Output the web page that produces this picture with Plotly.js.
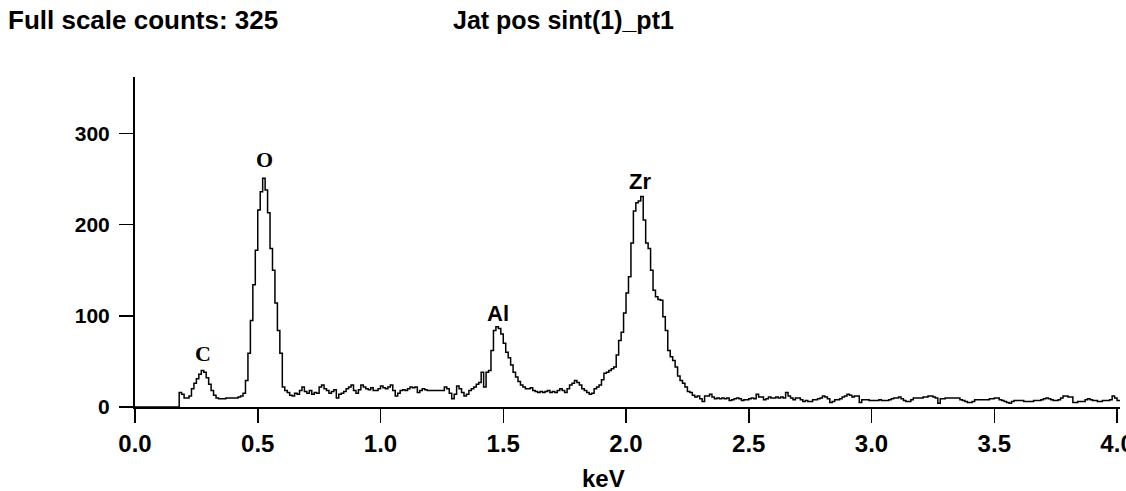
<!DOCTYPE html>
<html>
<head>
<meta charset="utf-8">
<script src="https://cdn.plot.ly/plotly-3.0.1.min.js"></script>
<style>html,body{margin:0;padding:0;background:#fff;}#chart{width:1126px;height:491px;}</style>
</head>
<body>
<div id="chart"></div>
<script>
// Spectrum counts, one value per 0.01 keV channel starting at 0.00 keV
const channelStart = 0.0;
const channelWidth = 0.01;
const counts = [
  0,0,0,0,0,0,0,0,0,0,
  0,0,0,0,0,0,0,0,16,14,
  10,10,12,20,26,31,36,40,38,32,
  25,18,13,10,9,9,9,10,10,10,
  10,10,11,12,15,29,59,95,134,172,
  216,236,251,238,213,174,150,114,84,59,
  22,18,16,13,12,15,14,18,22,17,
  15,18,14,16,15,22,24,20,18,15,
  17,19,10,14,15,17,20,22,24,18,
  15,19,24,22,20,19,21,18,18,20,
  23,21,20,22,24,18,12,15,18,19,
  18,20,22,21,22,16,18,20,19,18,
  18,18,18,18,18,18,22,20,15,9,
  14,23,20,16,12,14,18,20,22,25,
  27,38,22,38,40,62,84,88,86,80,
  70,60,54,46,38,33,28,24,22,20,
  20,21,18,17,16,17,16,17,18,16,
  17,16,18,20,18,16,20,24,26,29,
  27,24,20,18,16,14,15,20,22,24,
  30,37,38,40,42,44,57,73,82,103,
  125,143,180,215,224,226,231,205,180,174,
  150,128,121,118,117,99,84,62,55,51,
  44,34,29,26,22,17,16,13,11,12,
  9,6,12,12,14,11,9,10,9,10,
  9,10,7,8,9,10,9,7,8,8,
  9,10,9,14,11,11,8,9,11,10,
  10,11,10,11,10,16,12,10,8,10,
  10,8,6,7,6,6,8,8,9,10,
  12,11,9,5,6,8,8,9,11,12,
  14,13,11,12,12,5,8,8,8,7,
  7,7,7,8,7,7,7,8,9,10,
  10,11,9,7,6,6,8,10,10,10,
  10,11,11,12,12,11,10,4,9,9,
  10,10,10,10,10,10,8,7,6,5,
  5,6,8,8,8,8,8,8,9,9,
  10,10,8,7,6,5,4,6,7,7,
  7,7,6,6,6,6,7,7,7,8,
  9,10,9,8,7,7,8,10,12,12,
  11,11,5,5,6,6,6,8,9,8,
  7,7,6,6,7,7,7,8,12,10,
  7,7,9
];

// Peak labels
const peakNames = ['C', 'O', 'Al', 'Zr'];
const peakEnergy = [0.277, 0.529, 1.478, 2.055];
const peakLabelY = [59, 271, 103, 247];
const peakSerif = [true, true, false, false];

// Axis ticks
const xTickVals = [0, 0.5, 1.0, 1.5, 2.0, 2.5, 3.0, 3.5, 4.0];
const xTickText = ['0.0', '0.5', '1.0', '1.5', '2.0', '2.5', '3.0', '3.5', '4.0'];
const yTickVals = [0, 100, 200, 300];

const headerLeft = 'Full scale counts: 325';
const headerCenter = 'Jat pos sint(1)_pt1';
const xTitle = 'keV';

const sans = 'Liberation Sans, Arial, sans-serif';
const serif = 'Liberation Serif, Times New Roman, serif';
const boldFont = (size, fam) => ({family: fam || sans, size: size, color: '#000', weight: 'bold'});

const trace = {
  type: 'scatter',
  mode: 'lines',
  x0: channelStart,
  dx: channelWidth,
  y: counts,
  line: {color: '#000', width: 1.5, shape: 'hv'},
  hoverinfo: 'x+y'
};

const annotations = peakNames.map((n, i) => ({
  x: peakEnergy[i], y: peakLabelY[i], xref: 'x', yref: 'y',
  text: n, showarrow: false, xanchor: 'center', yanchor: 'middle',
  font: boldFont(22, peakSerif[i] ? serif : sans)
}));

annotations.push({
  xref: 'paper', yref: 'paper', x: -0.131, y: 1.173, xanchor: 'left', yanchor: 'middle',
  text: headerLeft, showarrow: false, font: boldFont(26)
});
annotations.push({
  xref: 'paper', yref: 'paper', x: 0.3208, y: 1.173, xanchor: 'left', yanchor: 'middle',
  text: headerCenter, showarrow: false, font: boldFont(25)
});
annotations.push({
  xref: 'paper', yref: 'paper', x: 0.476, y: -0.216, xanchor: 'center', yanchor: 'middle',
  text: xTitle, showarrow: false, font: boldFont(24)
});

const axisCommon = {
  showline: true, linecolor: '#000', linewidth: 2,
  ticks: 'outside', ticklen: 14, tickwidth: 1.5, tickcolor: '#000',
  showgrid: false, zeroline: false,
  ticklabeloverflow: 'allow',
  fixedrange: true
};

const layout = {
  width: 1126, height: 491,
  margin: {l: 135, r: 6, t: 77, b: 84},
  paper_bgcolor: '#fff', plot_bgcolor: '#fff',
  showlegend: false,
  xaxis: Object.assign({}, axisCommon, {
    range: [0, 4.012], tickmode: 'array', tickvals: xTickVals, ticktext: xTickText,
    tickfont: boldFont(24)
  }),
  yaxis: Object.assign({}, axisCommon, {
    range: [0, 362], tickmode: 'array', tickvals: yTickVals, ticklabelstandoff: 5,
    tickfont: boldFont(21)
  }),
  annotations: annotations
};

Plotly.newPlot('chart', [trace], layout, {displayModeBar: false, staticPlot: true});
</script>
</body>
</html>
